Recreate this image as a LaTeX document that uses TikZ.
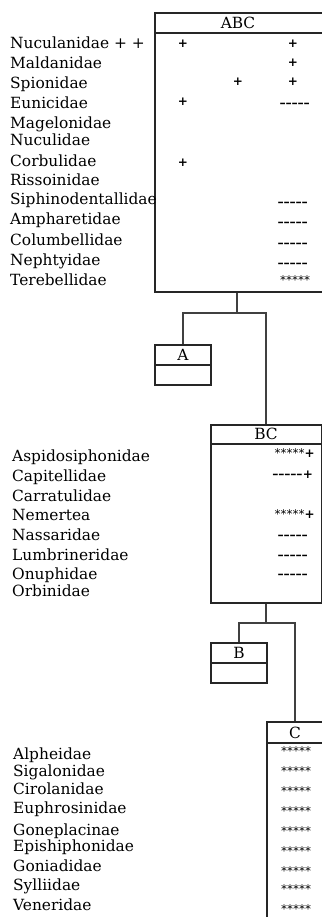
\documentclass[tikz,border=0pt]{standalone}
\usepackage{fontspec}
\setmainfont{DejaVu Serif}
\newfontfamily\symfont{DejaVu Sans}
\newfontfamily\dashfont{Latin Modern Roman}
\begin{document}
\begin{tikzpicture}[x=1pt,y=-1pt,
  box/.style={draw=black!85, line width=1.2pt, rectangle, inner sep=0pt},
  sep/.style={draw=black!85, line width=1.2pt},
  conn/.style={draw=black!75, line width=1.2pt},
  lab/.style={anchor=base west, inner sep=0pt, font=\fontsize{15.4}{19}\selectfont},
  hdr/.style={inner sep=0pt, font=\fontsize{15.4}{19}\selectfont},
  pl/.style={anchor=base, inner sep=0pt, font=\symfont\bfseries\fontsize{12}{14}\selectfont, yshift=-4.3pt},
  ds/.style={anchor=base, inner sep=0pt, font=\dashfont\bfseries\fontsize{16}{20}\selectfont, yshift=-4.2pt},
  st/.style={anchor=base, inner sep=0pt, font=\symfont\fontsize{12}{14}\selectfont, yshift=-7pt},
  cmb/.style={anchor=base east, inner sep=0pt, font=\symfont\bfseries\fontsize{12}{14}\selectfont, yshift=-4.3pt}]
\useasboundingbox (0,0) rectangle (321,917);

% boxes
\node[box, minimum width=167.5pt, minimum height=279pt] (ABC) at (238.75,152.5) {};
\node[box, minimum width=56pt, minimum height=40pt] (A) at (183,365) {};
\node[box, minimum width=111pt, minimum height=178pt] (BC) at (266.5,514) {};
\node[box, minimum width=56pt, minimum height=40pt] (B) at (239,663) {};
\node[box, minimum width=56pt, minimum height=228pt] (C) at (295,836) {};

\coordinate (hABC) at (0,33);
\coordinate (hBC) at (0,444);
\coordinate (hC) at (0,743);
\draw[sep] (ABC.west |- hABC) -- (ABC.east |- hABC);
\draw[sep] (A.west) -- (A.east);
\draw[sep] (BC.west |- hBC) -- (BC.east |- hBC);
\draw[sep] (B.west) -- (B.east);
\draw[sep] (C.west |- hC) -- (C.east |- hC);

\node[hdr] (tABC) at (238,23) {ABC};
\node[hdr] (tA) at (183,355) {A};
\node[hdr] (tBC) at (266,434) {BC};
\node[hdr] (tB) at (239,653) {B};
\node[hdr] (tC) at (295,733) {C};

% connectors
\coordinate (j1) at (237,313);
\coordinate (j1r) at (266,313);
\coordinate (j2) at (266,623);
\draw[conn] (j1 |- ABC.south) -- (j1);
\draw[conn] (A.north) |- (j1) -- (j1r) -- (j1r |- BC.north);
\draw[conn] (j2 |- BC.south) -- (j2);
\draw[conn] (B.north) |- (j2) -| (C.north);

% ABC labels
\node[lab] (a1) at (10,48.3) {Nuculanidae + +};
\node[lab] (a2) at (10,68.3) {Maldanidae};
\node[lab] (a3) at (10,88.3) {Spionidae};
\node[lab] (a4) at (10,108.3) {Eunicidae};
\node[lab] (a5) at (10,128.3) {Magelonidae};
\node[lab] (a6) at (10,145.7) {Nuculidae};
\node[lab] (a7) at (10,166.7) {Corbulidae};
\node[lab] (a8) at (10,186) {Rissoinidae};
\node[lab] (a9) at (10,205) {Siphinodentallidae};
\node[lab] (a10) at (10,225) {Ampharetidae};
\node[lab] (a11) at (10,245) {Columbellidae};
\node[lab] (a12) at (10,265) {Nephtyidae};
\node[lab] (a13) at (10,285) {Terebellidae};

% ABC entries
\node[pl] (p1) at (183,43.3) {+};
\node[pl] (p2) at (293,43.3) {+};
\node[pl] (p3) at (293,62.3) {+};
\node[pl] (p4) at (238,81.7) {+};
\node[pl] (p5) at (293,81.7) {+};
\node[pl] (p6) at (183,101.7) {+};
\node[ds] (d1) at (295,103.3) {-{}-{}-{}-{}-};
\node[pl] (p7) at (183,162.3) {+};
\node[ds] (d2) at (293,202.7) {-{}-{}-{}-{}-};
\node[ds] (d3) at (293,222.7) {-{}-{}-{}-{}-};
\node[ds] (d4) at (293,243.3) {-{}-{}-{}-{}-};
\node[ds] (d5) at (293,263.3) {-{}-{}-{}-{}-};
\node[st] (s1) at (295,277.7) {*****};

% BC labels
\node[lab] (b1) at (12,461.7) {Aspidosiphonidae};
\node[lab] (b2) at (12,481.7) {Capitellidae};
\node[lab] (b3) at (12,501.7) {Carratulidae};
\node[lab] (b4) at (12,520) {Nemertea};
\node[lab] (b5) at (12,540) {Nassaridae};
\node[lab] (b6) at (12,560) {Lumbrineridae};
\node[lab] (b7) at (12,579.3) {Onuphidae};
\node[lab] (b8) at (12,596.7) {Orbinidae};

% BC entries
\node[cmb] (c1) at (315,453) {{\mdseries\fontsize{12}{14}\selectfont *****}+};
\node[cmb] (c2) at (313,474) {{\dashfont\fontsize{16}{20}\selectfont -{}-{}-{}-{}-}+};
\node[cmb] (c3) at (315,514) {{\mdseries\fontsize{12}{14}\selectfont *****}+};
\node[ds] (d6) at (293,535) {-{}-{}-{}-{}-};
\node[ds] (d7) at (293,555) {-{}-{}-{}-{}-};
\node[ds] (d8) at (293,574) {-{}-{}-{}-{}-};

% C labels
\node[lab] (e1) at (13,759.3) {Alpheidae};
\node[lab] (e2) at (13,776.7) {Sigalonidae};
\node[lab] (e3) at (13,794.3) {Cirolanidae};
\node[lab] (e4) at (13,813.3) {Euphrosinidae};
\node[lab] (e5) at (13,835) {Goneplacinae};
\node[lab] (e6) at (13,851.7) {Epishiphonidae};
\node[lab] (e7) at (13,871.7) {Goniadidae};
\node[lab] (e8) at (13,890) {Sylliidae};
\node[lab] (e9) at (13,910) {Veneridae};

% C entries
\node[st] (s2) at (296,748.3) {*****};
\node[st] (s3) at (296,768.3) {*****};
\node[st] (s4) at (296,788.3) {*****};
\node[st] (s5) at (296,808.3) {*****};
\node[st] (s6) at (296,828.3) {*****};
\node[st] (s7) at (296,848.3) {*****};
\node[st] (s8) at (296,868.3) {*****};
\node[st] (s9) at (296,886.7) {*****};
\node[st] (s10) at (296,906.7) {*****};
\end{tikzpicture}
\end{document}
